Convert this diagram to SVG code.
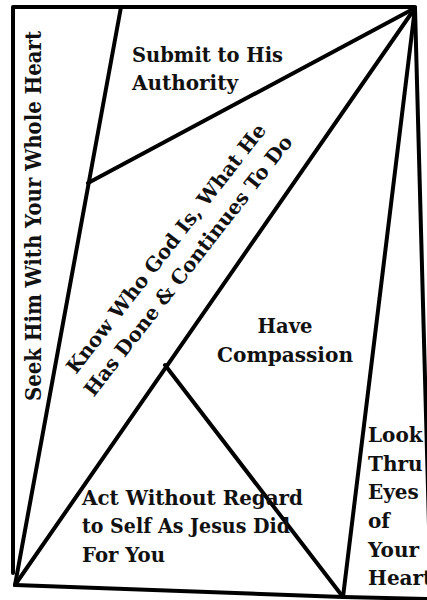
<svg xmlns="http://www.w3.org/2000/svg" width="427" height="600" viewBox="0 0 427 600">
<style>
.ln{stroke:#000;stroke-width:4;fill:none;stroke-linecap:round;stroke-linejoin:round}
.t{font-family:"DejaVu Serif","Liberation Serif",serif;font-weight:bold;font-size:21px;fill:#111}
.s{font-size:20px}
</style>
<rect width="427" height="600" fill="#fff"/>
<g id="connectors">
<polyline class="ln" points="13,573 13,7 415,7"/>
<line class="ln" x1="121" y1="7" x2="15" y2="585"/>
<line class="ln" x1="88" y1="183" x2="415" y2="8" stroke-width="3.5"/>
<line class="ln" x1="415" y1="8" x2="15" y2="585"/>
<line class="ln" x1="165" y1="365" x2="343" y2="597"/>
<line class="ln" x1="415" y1="8" x2="343" y2="597"/>
<line class="ln" x1="415" y1="8" x2="431" y2="600"/>
<polyline class="ln" points="15,585 343,597 430,599"/>
</g>
<g id="seek">
<text class="t" transform="translate(41,216) rotate(-90)" text-anchor="middle" textLength="370" lengthAdjust="spacingAndGlyphs" style="font-size:22px">Seek Him With Your Whole Heart</text>
</g>
<g id="submit">
<text class="t" x="132" y="62" textLength="151" lengthAdjust="spacingAndGlyphs">Submit to His</text>
<text class="t" x="132" y="90" textLength="106" lengthAdjust="spacingAndGlyphs">Authority</text>
</g>
<g id="know" transform="translate(177,257) rotate(-52)">
<text class="t s" x="0" y="-7" text-anchor="middle">Know Who God Is, What He</text>
<text class="t s" x="0" y="21" text-anchor="middle">Has Done &amp; Continues To Do</text>
</g>
<g id="compassion">
<text class="t" x="285" y="333" text-anchor="middle" textLength="55" lengthAdjust="spacingAndGlyphs">Have</text>
<text class="t" x="285" y="362" text-anchor="middle" textLength="136" lengthAdjust="spacingAndGlyphs">Compassion</text>
</g>
<g id="act">
<text class="t" x="82" y="505" textLength="221" lengthAdjust="spacingAndGlyphs">Act Without Regard</text>
<text class="t" x="82" y="533" textLength="208" lengthAdjust="spacingAndGlyphs">to Self As Jesus Did</text>
<text class="t" x="82" y="562" textLength="83" lengthAdjust="spacingAndGlyphs">For You</text>
</g>
<g id="look">
<text class="t s" x="368" y="442">Look</text>
<text class="t s" x="368" y="471">Thru</text>
<text class="t s" x="368" y="499">Eyes</text>
<text class="t s" x="368" y="528">of</text>
<text class="t s" x="368" y="557">Your</text>
<text class="t s" x="368" y="585">Heart</text>
</g>
</svg>
